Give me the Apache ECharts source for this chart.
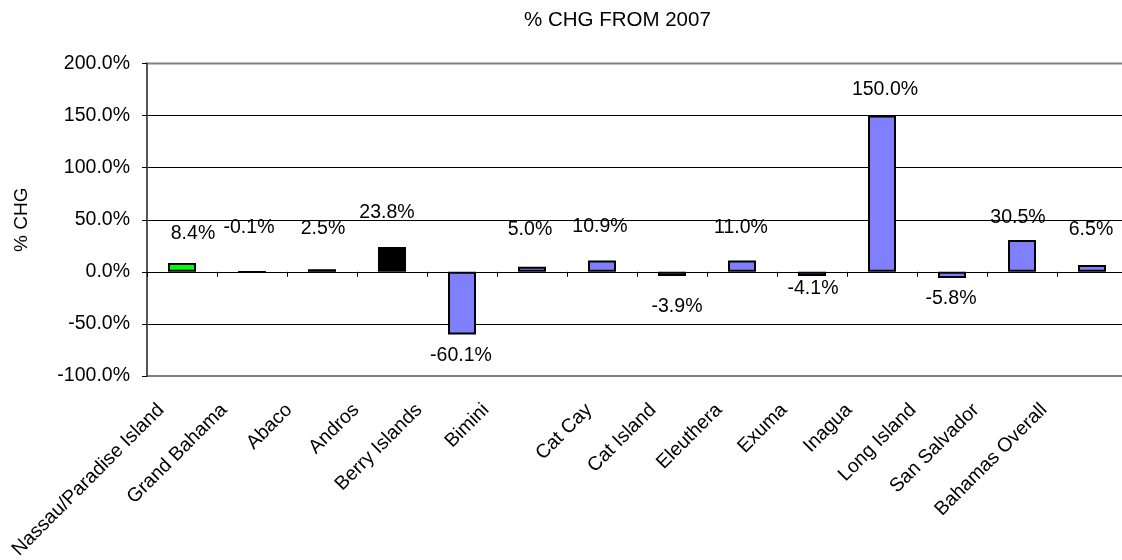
<!DOCTYPE html>
<html>
<head>
<meta charset="utf-8">
<script src="https://cdn.jsdelivr.net/npm/echarts@6/dist/echarts.min.js"></script>
<style>
  html, body { margin: 0; padding: 0; background: #fff; }
  #chart { width: 1122px; height: 560px; }
</style>
</head>
<body>
<div id="chart"></div>
<script>
// Percentage change in arrivals from 2007, by island
const categories = [
  'Nassau/Paradise Island', 'Grand Bahama', 'Abaco', 'Andros', 'Berry Islands',
  'Bimini', 'Cat Cay', 'Cat Island', 'Eleuthera', 'Exuma', 'Inagua',
  'Long Island', 'San Salvador', 'Bahamas Overall'
];
const changePct = [8.4, -0.1, 2.5, 23.8, -60.1, 5.0, 10.9, -3.9, 11.0, -4.1, 150.0, -5.8, 30.5, 6.5];

// value axis range and step
const yMin = -100;
const yMax = 200;
const yStep = 50;

// ---- styling (kept apart from the values) ----
const FONT = "'Liberation Sans', Arial, sans-serif";
const LABEL_SIZE = 19.5;
const barFills = [
  '#00ff00', '#000000', '#000000', '#000000', '#8080ff', '#8080ff', '#8080ff',
  '#8080ff', '#8080ff', '#8080ff', '#8080ff', '#8080ff', '#8080ff', '#8080ff'
];
// value labels: placed below the bar or above it, then nudged [dx, dy]
const labelBelow = [false, false, false, false, true, false, false, true, false, true, false, true, false, false];
const labelNudge = [
  [11, -19], [-3, -33], [1, -31], [-5, -24], [-1, 11], [-2, -27], [-2, -24],
  [5, 21], [-1, -23], [1, 3], [3, -16], [-1, 11], [-4, -12], [-1, -25]
];
// horizontal shift of each rotated category label
const tickLabelShift = [-21, -28, -33, -36, -43, -46, -13, -19, -23, -28, -33, -39, -46, -48];

// one rich style per category label; right/bottom padding slides the
// rotated text sideways while keeping its height on the page
const tickRich = {};
tickLabelShift.forEach((k, i) => {
  const r = -k / Math.SQRT2;
  tickRich['c' + i] = {
    fontFamily: FONT,
    fontSize: LABEL_SIZE,
    color: '#000',
    padding: [0, r, 2 * r, 0]
  };
});

const barData = changePct.map((v, i) => ({
  value: v,
  itemStyle: { color: barFills[i] },
  label: {
    position: labelBelow[i] ? 'bottom' : 'top',
    offset: labelNudge[i]
  }
}));

const chart = echarts.init(document.getElementById('chart'), null, { renderer: 'canvas' });
chart.setOption({
  animation: false,
  backgroundColor: '#ffffff',
  textStyle: { fontFamily: FONT },
  title: {
    text: '% CHG FROM 2007',
    left: 519,
    top: 5,
    textStyle: { fontFamily: FONT, fontSize: 20.5, fontWeight: 'normal', color: '#000' }
  },
  grid: {
    left: 147,
    top: 63.5,
    width: 980,
    height: 312.5,
    outerBoundsMode: 'none',
    containLabel: false,
    show: true,
    borderColor: '#808080',
    borderWidth: 2,
    backgroundColor: 'transparent'
  },
  xAxis: [
    {
      type: 'category',
      data: categories,
      position: 'bottom',
      axisLine: { show: false, onZero: false },
      axisTick: { show: false },
      splitLine: { show: false },
      axisLabel: {
        interval: 0,
        rotate: 45,
        margin: 31,
        hideOverlap: false,
        fontFamily: FONT,
        fontSize: LABEL_SIZE,
        color: '#000',
        formatter: (name, idx) => '{c' + idx + '|' + name + '}',
        rich: tickRich
      }
    },
    {
      type: 'category',
      data: categories,
      position: 'bottom',
      axisLine: { show: true, onZero: true, lineStyle: { color: '#000', width: 1 } },
      axisTick: { show: true, length: 5, interval: 0, lineStyle: { color: '#000', width: 1 } },
      axisLabel: { show: false },
      splitLine: { show: false }
    }
  ],
  yAxis: {
    type: 'value',
    min: yMin,
    max: yMax,
    interval: yStep,
    name: '% CHG',
    nameLocation: 'middle',
    nameRotate: 90,
    nameGap: 116,
    nameTextStyle: { fontFamily: FONT, fontSize: 19, color: '#000' },
    axisLine: { show: true, lineStyle: { color: '#555', width: 2 } },
    axisTick: { show: true, length: 5, lineStyle: { color: '#000', width: 1 } },
    axisLabel: {
      margin: 17,
      fontFamily: FONT,
      fontSize: LABEL_SIZE,
      color: '#000',
      formatter: v => v.toFixed(1) + '%'
    },
    splitLine: {
      show: true,
      lineStyle: {
        color: ['#808080', '#000', '#000', '#000', '#000', '#000', '#808080'],
        width: 1
      }
    }
  },
  series: [{
    type: 'bar',
    xAxisIndex: 0,
    data: barData,
    barWidth: 28,
    itemStyle: { borderColor: '#000', borderWidth: 2 },
    label: {
      show: true,
      distance: 0,
      fontFamily: FONT,
      fontSize: LABEL_SIZE,
      color: '#000',
      formatter: p => p.value.toFixed(1) + '%'
    }
  }]
});
</script>
</body>
</html>
